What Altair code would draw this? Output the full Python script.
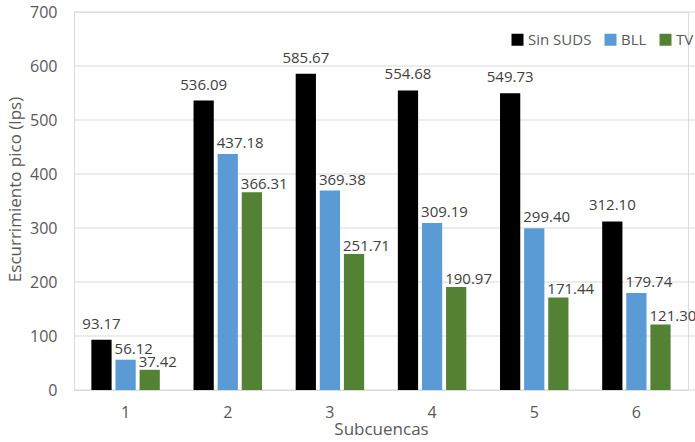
import altair as alt
import pandas as pd

subcuencas = ["1", "2", "3", "4", "5", "6"]
series = ["Sin SUDS", "BLL", "TV"]
sin_suds = [93.17, 536.09, 585.67, 554.68, 549.73, 312.10]
bll = [56.12, 437.18, 369.38, 309.19, 299.40, 179.74]
tv = [37.42, 366.31, 251.71, 190.97, 171.44, 121.30]
colors = ["#000000", "#5B9BD5", "#548235"]
y_ticks = [0, 100, 200, 300, 400, 500, 600, 700]

rows = []
for name, vals in zip(series, [sin_suds, bll, tv]):
    for s, v in zip(subcuencas, vals):
        rows.append({"Subcuenca": s, "Serie": name, "Valor": v, "Etiqueta": f"{v:.2f}"})
df = pd.DataFrame(rows)
ticks_df = pd.DataFrame({"t": y_ticks})

FONT = "Open Sans"

x_enc = alt.X("Subcuenca:N", sort=subcuencas,
              scale=alt.Scale(paddingInner=0.33, paddingOuter=0.17),
              axis=alt.Axis(title="Subcuencas", labelAngle=0, domain=False, ticks=False,
                            grid=False, labelPadding=14, titlePadding=1,
                            labelFontSize=16, titleFontSize=17, labelColor="#595959",
                            titleColor="#595959", labelFont=FONT, titleFont=FONT,
                            titleFontWeight="normal"))
xoff_enc = alt.XOffset("Serie:N", sort=series,
                       scale=alt.Scale(paddingInner=0.16, paddingOuter=0))
y_enc = alt.Y("Valor:Q", scale=alt.Scale(domain=[0, 700], nice=False),
              axis=alt.Axis(title="Escurrimiento pico (lps)", values=y_ticks,
                            domain=False, ticks=False, grid=False, labelPadding=17,
                            titlePadding=5, titleY=177, labelFontSize=16, titleFontSize=17,
                            labelColor="#595959", titleColor="#595959",
                            labelFont=FONT, titleFont=FONT, titleFontWeight="normal"))

grid = alt.Chart(ticks_df).mark_rule(color="#d9d9d9", strokeWidth=1).encode(
    y=alt.Y("t:Q"), x=alt.value(0), x2=alt.value(621)
)

bars = alt.Chart(df).mark_bar().encode(
    x=x_enc,
    xOffset=xoff_enc,
    y=y_enc,
    color=alt.Color("Serie:N", sort=series,
                    scale=alt.Scale(domain=series, range=colors),
                    legend=alt.Legend(title=None, orient="none", direction="horizontal",
                                      legendX=436, legendY=20, symbolType="square",
                                      symbolSize=144, symbolStrokeWidth=0,
                                      labelFontSize=15, labelColor="#595959",
                                      labelFont=FONT, labelOffset=3, columnPadding=11)),
)

text_black = alt.Chart(df).transform_filter(alt.datum.Serie == "Sin SUDS").mark_text(
    align="center", baseline="alphabetic", dy=-11, fontSize=15, font=FONT, color="#404040"
).encode(x=x_enc, xOffset=xoff_enc, y=y_enc, text="Etiqueta:N")

text_blue = alt.Chart(df).transform_filter(alt.datum.Serie == "BLL").mark_text(
    align="left", baseline="alphabetic", dx=-11, dy=-6, fontSize=15, font=FONT, color="#404040"
).encode(x=x_enc, xOffset=xoff_enc, y=y_enc, text="Etiqueta:N")

text_green = alt.Chart(df).transform_filter(alt.datum.Serie == "TV").mark_text(
    align="left", baseline="alphabetic", dx=-11, dy=-3, fontSize=15, font=FONT, color="#404040"
).encode(x=x_enc, xOffset=xoff_enc, y=y_enc, text="Etiqueta:N")

chart = alt.layer(grid, bars, text_black, text_blue, text_green).properties(
    width=614, height=378,
    autosize=alt.AutoSizeParams(type="none"),
    padding={"left": 74, "top": 12, "right": 7, "bottom": 52},
).configure_view(stroke=None).configure(background="white")

chart.save("out.html", embed_options={"renderer": "svg", "actions": False})
